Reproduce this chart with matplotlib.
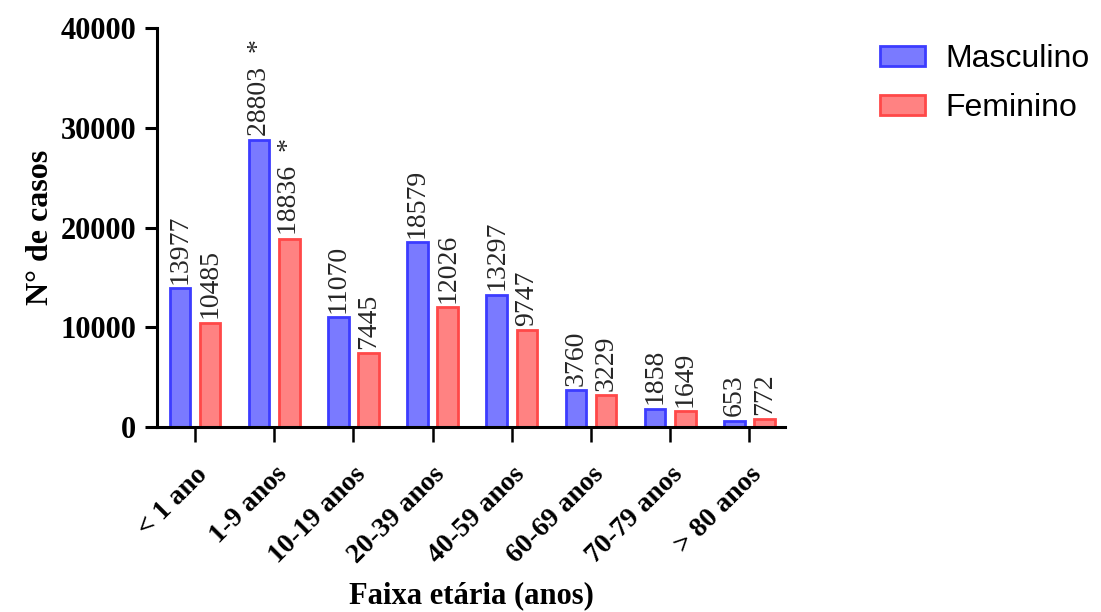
import matplotlib
matplotlib.use("Agg")
import matplotlib.pyplot as plt
import numpy as np

# ── Data ──────────────────────────────────────────────────────────────────────
faixas = ["< 1 ano", "1-9 anos", "10-19 anos", "20-39 anos",
          "40-59 anos", "60-69 anos", "70-79 anos", "> 80 anos"]
masculino = [13977, 28803, 11070, 18579, 13297, 3760, 1858, 653]
feminino = [10485, 18836, 7445, 12026, 9747, 3229, 1649, 772]
signif_m = [False, True, False, False, False, False, False, False]
signif_f = [False, True, False, False, False, False, False, False]
y_ticks = [0, 10000, 20000, 30000, 40000]

# ── Style ─────────────────────────────────────────────────────────────────────
SERIF = "Liberation Serif"
SANS = "Liberation Sans"
BLUE_FILL, BLUE_EDGE = "#7A7AFF", "#3C3CFF"
RED_FILL, RED_EDGE = "#FF8282", "#FF4848"

fig = plt.figure(figsize=(11.01, 6.12), dpi=100)
ax = fig.add_axes([0.1426, 0.302, 0.5704, 0.652])

x = np.arange(len(faixas))
off, w = 0.19, 0.26
b_m = ax.bar(x - off, masculino, w, color=BLUE_FILL, edgecolor=BLUE_EDGE,
             linewidth=2.0, label="Masculino")
b_f = ax.bar(x + off, feminino, w, color=RED_FILL, edgecolor=RED_EDGE,
             linewidth=2.0, label="Feminino")

# value labels written vertically above each bar
for bars, vals, sig in ((b_m, masculino, signif_m), (b_f, feminino, signif_f)):
    for rect, v, s in zip(bars, vals, sig):
        txt = f"{v}  *" if s else f"{v}"
        ax.annotate(txt, (rect.get_x() + rect.get_width() / 2, v),
                    xytext=(0, 3), textcoords="offset points",
                    rotation=90, ha="center", va="bottom",
                    fontsize=20, family=SERIF, color="#262626")

ax.set_ylim(0, 40000)
ax.set_xlim(-0.48, 7.45)
ax.set_yticks(y_ticks)
ax.set_yticklabels([str(t) for t in y_ticks], fontsize=22, family=SERIF,
                   fontweight="bold")
ax.set_xticks(x)
ax.set_xticklabels(faixas, rotation=45, ha="right", rotation_mode="anchor",
                   fontsize=20, family=SERIF, fontweight="bold")

for side in ("top", "right"):
    ax.spines[side].set_visible(False)
for side in ("left", "bottom"):
    ax.spines[side].set_linewidth(2.2)
ax.tick_params(axis="y", length=9, width=2.2, pad=6)
ax.tick_params(axis="x", length=11, width=1.8, pad=14)

ax.set_ylabel("N° de casos", fontsize=23, family=SERIF, fontweight="bold",
              labelpad=4)
ax.set_xlabel("Faixa etária (anos)", fontsize=22, family=SERIF,
              fontweight="bold", labelpad=9)

fig.legend(handles=[b_m, b_f], loc="upper left",
           bbox_to_anchor=(0.773, 0.975), frameon=False,
           prop={"family": SANS, "size": 23},
           handlelength=1.4, handleheight=0.6, handletextpad=0.65,
           labelspacing=0.6)

fig.savefig("out.png", dpi=100)
plt.close(fig)
